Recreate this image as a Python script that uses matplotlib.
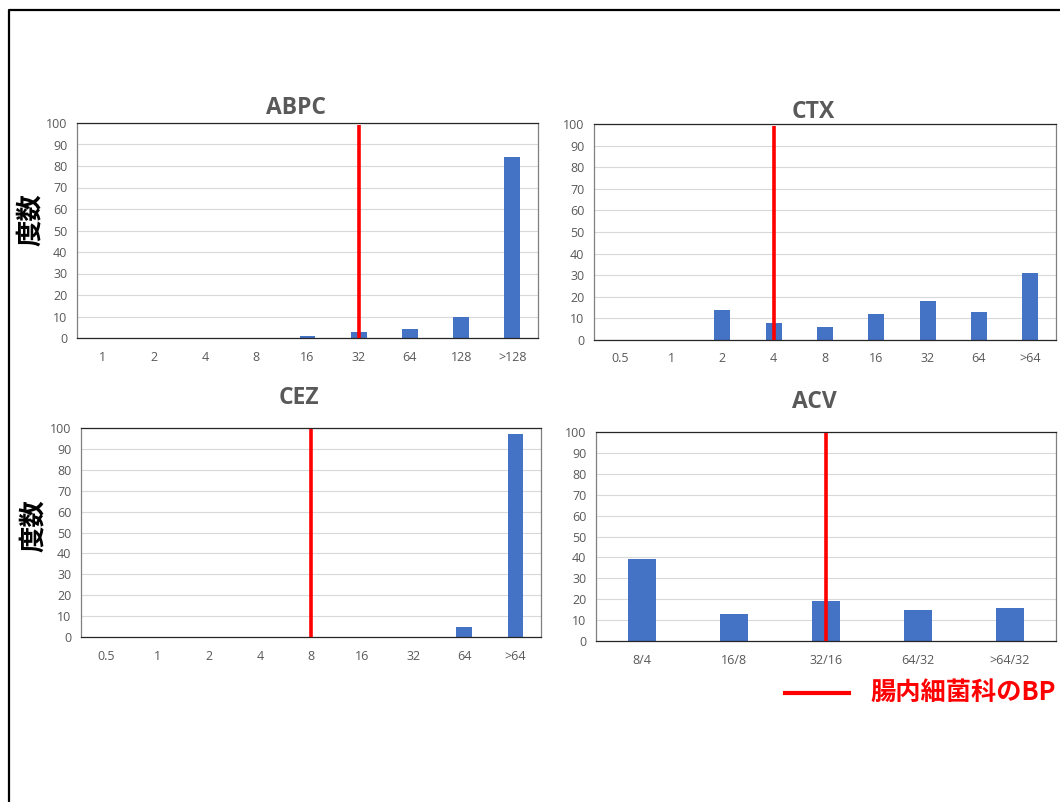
import matplotlib
matplotlib.use('Agg')
import matplotlib.pyplot as plt
from matplotlib.lines import Line2D

plt.rcParams['font.family'] = ['Open Sans', 'Noto Sans CJK JP', 'DejaVu Sans']

# --- данные ---
abpc_labels = ['1', '2', '4', '8', '16', '32', '64', '128', '>128']
abpc_values = [0, 0, 0, 0, 1, 3, 4, 10, 84]
abpc_bp = '32'

ctx_labels = ['0.5', '1', '2', '4', '8', '16', '32', '64', '>64']
ctx_values = [0, 0, 14, 8, 6, 12, 18, 13, 31]
ctx_bp = '4'

cez_labels = ['0.5', '1', '2', '4', '8', '16', '32', '64', '>64']
cez_values = [0, 0, 0, 0, 0, 0, 0, 5, 97]
cez_bp = '8'

acv_labels = ['8/4', '16/8', '32/16', '64/32', '>64/32']
acv_values = [39, 13, 19, 15, 16]
acv_bp = '32/16'

legend_text = '腸内細菌科のBP'
ylabel_text = '度数'

W, H = 1060, 802
BAR_COLOR = '#4472C4'
TEXT_GRAY = '#595959'
RED = '#FF0000'


def px_rect(x0, y0, x1, y1):
    # прямоугольник в пикселях -> доли фигуры
    return [x0 / W, 1 - y1 / H, (x1 - x0) / W, (y1 - y0) / H]


def draw_panel(ax, title, labels, values, bp, title_pad):
    x = list(range(len(labels)))
    ax.bar(x, values, width=0.31, color=BAR_COLOR, zorder=2)
    ax.vlines(labels.index(bp), 0, 99.3, color=RED, linewidth=2.6, zorder=3)

    ax.set_xlim(-0.5, len(labels) - 0.5)
    ax.set_ylim(0, 100)
    ax.set_yticks(range(0, 101, 10))
    ax.set_xticks(x)
    ax.set_xticklabels(labels)
    ax.tick_params(axis='both', length=0, labelsize=9, labelcolor=TEXT_GRAY)
    ax.tick_params(axis='y', pad=7)
    ax.tick_params(axis='x', pad=9)

    ax.grid(axis='y', color='#d9d9d9', linewidth=0.8, zorder=0)
    ax.set_axisbelow(True)
    for side in ['top', 'bottom']:
        ax.spines[side].set_color('#262626')
        ax.spines[side].set_linewidth(0.9)
    for side in ['left', 'right']:
        ax.spines[side].set_color('#808080')
        ax.spines[side].set_linewidth(0.9)

    ax.set_title(title, x=0.474, pad=title_pad, fontsize=16.5,
                 fontweight='bold', color=TEXT_GRAY)


fig = plt.figure(figsize=(W / 100, H / 100), dpi=100)

ax1 = fig.add_axes(px_rect(77, 123, 538, 338))
ax2 = fig.add_axes(px_rect(594, 124, 1056, 340))
ax3 = fig.add_axes(px_rect(81, 428, 541, 637))
ax4 = fig.add_axes(px_rect(596, 432, 1056, 641))

draw_panel(ax1, 'ABPC', abpc_labels, abpc_values, abpc_bp, 6.5)
draw_panel(ax2, 'CTX', ctx_labels, ctx_values, ctx_bp, 4.5)
draw_panel(ax3, 'CEZ', cez_labels, cez_values, cez_bp, 17.5)
draw_panel(ax4, 'ACV', acv_labels, acv_values, acv_bp, 17.5)

# подписи оси Y
for (px, py) in [(30, 220), (33, 526)]:
    fig.text(px / W, 1 - py / H, ylabel_text, rotation=90, ha='center', va='center',
             fontsize=19, fontweight='bold', color='black',
             family=['Noto Sans CJK JP', 'DejaVu Sans'])

# легенда
fig.add_artist(Line2D([785 / W, 849 / W], [1 - 693 / H, 1 - 693 / H],
                      color=RED, linewidth=3, transform=fig.transFigure))
fig.text(870 / W, 1 - 692 / H, legend_text, ha='left', va='center',
         fontsize=18.2, fontweight='bold', color=RED,
         family=['Noto Sans CJK JP', 'DejaVu Sans'])

# рамка слайда
fig.add_artist(Line2D([8.5 / W, 8.5 / W, 1.0], [0.0, 1 - 9.5 / H, 1 - 9.5 / H],
                      color='black', linewidth=1.6, transform=fig.transFigure))

fig.savefig('out.png', dpi=100)
